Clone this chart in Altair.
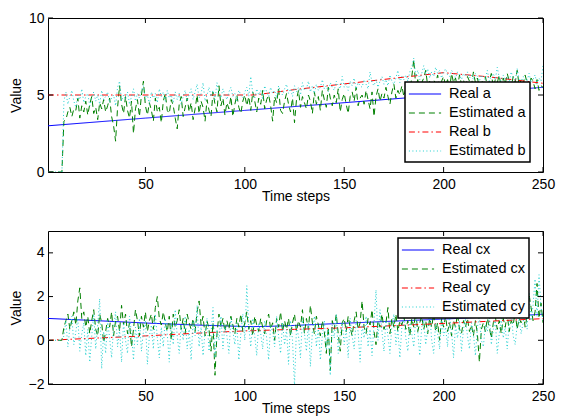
import altair as alt
import pandas as pd

# ---------------- data ----------------
t = list(range(1, 251))

est_a = [
    0, 0, 0, 0, 0, 0, 0, 0, 3.3, 3.4,
    3.9, 4.2, 3.6, 4.1, 4.0, 4.8, 3.5, 4.3, 3.9, 4.6,
    3.7, 4.4, 4.9, 3.8, 4.2, 3.4, 4.5, 4.1, 4.7, 3.9,
    4.3, 4.8, 3.6, 3.0, 2.0, 4.2, 5.6, 4.4, 3.8, 4.9,
    4.0, 3.5, 4.6, 2.5, 4.1, 4.7, 3.6, 5.0, 5.9, 4.3,
    3.7, 4.5, 4.0, 3.3, 4.8, 3.9, 4.2, 3.2, 4.6, 5.1,
    4.0, 3.8, 4.7, 4.3, 3.5, 2.8, 4.4, 4.9, 3.6, 4.2,
    4.8, 3.9, 4.5, 3.4, 4.1, 5.0, 3.8, 4.6, 4.2, 3.3,
    4.7, 4.0, 3.6, 5.2, 4.4, 3.9, 5.6, 4.3, 4.8, 3.7,
    4.5, 4.1, 4.9, 3.6, 4.4, 5.0, 4.2, 3.8, 4.6, 5.0,
    4.3, 4.9, 4.0, 5.2, 4.6, 3.9, 4.8, 4.4, 5.3, 4.1,
    4.7, 5.0, 4.3, 3.3, 4.9, 4.5, 5.4, 4.0, 3.8, 4.6,
    5.1, 4.4, 3.9, 4.8, 3.2, 4.7, 5.3, 4.2, 4.9, 4.5,
    4.1, 5.0, 4.6, 3.8, 5.2, 4.4, 4.9, 4.0, 5.3, 4.7,
    4.2, 5.5, 4.8, 4.3, 5.0, 4.5, 5.4, 3.9, 4.7, 5.1,
    4.4, 3.8, 4.9, 5.2, 4.6, 5.5, 4.3, 4.8, 5.0, 4.4,
    5.3, 4.7, 4.1, 5.2, 3.6, 4.9, 5.4, 4.6, 5.1, 4.8,
    5.5, 4.9, 4.4, 5.2, 5.7, 4.8, 5.3, 5.0, 5.6, 4.9,
    5.4, 5.8, 5.1, 6.2, 7.3, 5.5, 6.0, 5.3, 5.8, 6.1,
    6.6, 5.6, 5.9, 5.2, 6.0, 5.7, 6.3, 5.5, 5.9, 6.2,
    5.6, 6.0, 5.4, 6.4, 5.8, 6.1, 5.5, 6.3, 5.7, 6.0,
    5.4, 6.2, 5.9, 5.6, 6.5, 5.8, 6.1, 5.5, 6.0, 5.7,
    6.2, 5.6, 5.9, 6.4, 5.5, 6.0, 5.8, 6.3, 5.4, 6.1,
    5.7, 6.4, 5.9, 5.5, 6.2, 5.8, 6.6, 5.6, 6.0, 5.7,
    6.3, 5.8, 5.5, 6.1, 5.9, 5.4, 6.0, 5.3, 5.6, 5.5,
]

est_b = [
    0, 0, 0, 0, 0, 0, 0, 0, 4.6, 5.2,
    4.4, 4.9, 5.3, 4.6, 4.2, 5.0, 4.7, 5.4, 4.5, 4.9,
    5.1, 4.3, 4.8, 5.2, 4.6, 5.0, 4.4, 5.3, 4.7, 4.9,
    5.2, 4.5, 4.8, 5.0, 4.3, 5.5, 5.9, 4.6, 5.0, 4.7,
    5.2, 4.4, 4.9, 5.4, 4.6, 5.1, 4.8, 5.3, 5.6, 4.7,
    5.0, 4.4, 5.2, 4.8, 5.1, 4.5, 5.4, 4.9, 5.2, 4.6,
    5.3, 4.8, 5.0, 4.5, 5.2, 4.7, 5.1, 4.4, 4.9, 5.3,
    4.6, 5.0, 5.4, 4.7, 5.2, 5.7, 4.8, 5.1, 5.8, 4.6,
    5.0, 5.5, 4.9, 5.3, 4.7, 5.8, 5.1, 4.8, 5.4, 5.0,
    4.7, 5.2, 5.5, 4.9, 5.1, 4.6, 5.3, 5.0, 4.8, 5.2,
    5.5, 4.9, 6.2, 5.1, 4.8, 5.4, 5.0, 5.3, 4.7, 5.6,
    5.2, 4.9, 5.5, 5.1, 5.3, 4.8, 5.6, 5.2, 5.0, 5.4,
    5.7, 5.1, 5.4, 4.9, 5.6, 5.2, 5.5, 5.0, 5.8, 5.3,
    5.4, 5.9, 5.2, 5.6, 5.1, 5.7, 5.3, 5.5, 6.0, 5.4,
    5.6, 5.2, 5.8, 5.5, 5.3, 5.9, 5.6, 5.4, 6.2, 5.5,
    5.7, 5.3, 5.9, 5.6, 6.1, 5.4, 5.8, 5.6, 5.5, 6.0,
    5.7, 5.4, 6.5, 5.8, 5.6, 6.0, 5.5, 5.9, 6.2, 5.7,
    6.0, 5.6, 6.3, 5.9, 5.7, 6.1, 6.6, 5.8, 6.2, 6.0,
    6.3, 5.9, 6.5, 6.8, 7.4, 6.2, 6.6, 6.0, 6.4, 6.9,
    6.3, 6.7, 6.1, 6.5, 6.2, 6.8, 6.4, 6.6, 6.1, 6.5,
    6.7, 6.3, 6.2, 6.6, 6.4, 6.1, 6.5, 6.3, 6.0, 6.4,
    6.2, 6.5, 6.1, 6.3, 6.0, 6.4, 6.2, 5.9, 6.3, 6.1,
    6.0, 6.6, 5.9, 6.2, 6.4, 6.0, 6.8, 6.1, 5.9, 6.3,
    6.0, 6.2, 5.8, 6.5, 6.1, 5.9, 6.7, 6.0, 5.8, 6.2,
    6.1, 5.9, 6.4, 5.8, 6.0, 6.3, 5.7, 6.1, 5.9, 6.9,
]

real_a_t = [1, 50, 100, 150, 200, 250]
real_a_v = [3.0, 3.5, 4.0, 4.5, 5.0, 5.5]

real_b_t = [1, 105, 125, 150, 176, 200, 224, 250]
real_b_v = [5.0, 5.0, 5.35, 5.72, 6.1, 6.45, 6.16, 5.76]

est_cx = [
    0, 0, 0, 0, 0, 0, 0, 0, 0.6, 0.9,
    1.2, 0.5, 0.9, 1.3, 0.7, 1.8, 2.4, 1.0, 1.3, 0.6,
    1.1, 0.3, 0.9, 1.4, 0.5, 0.2, 1.2, 0.8, -0.1, 0.4,
    1.0, 0.6, 1.3, 0.2, 0.9, 1.1, 0.4, 1.6, 0.7, 1.2,
    0.3, 0.8, -0.3, 0.5, 1.4, 0.9, 0.2, 1.1, 0.6, 1.3,
    0.4, 0.9, 1.2, 0.5, 1.5, 2.0, 1.0, 0.7, 1.3, 0.8,
    0.4, 1.1, 0.0, 1.2, 0.6, 0.9, 1.4, 0.5, 1.0, 0.3,
    1.2, 0.8, 0.5, 1.0, 0.4, 1.3, 1.8, 0.7, 1.1, 0.2,
    0.9, 0.5, -0.5, 0.8, -1.6, 0.3, 1.2, 0.6, 1.0, 0.4,
    0.9, 0.5, 1.1, 0.7, 0.3, 1.0, 0.6, 1.2, 0.4, 0.8,
    1.3, 0.5, 0.9, 0.2, 1.1, 0.7, 0.4, 1.0, 0.6, 0.3,
    0.9, 1.2, 0.5, 0.8, 0.0, 1.0, 0.6, 1.3, 0.4, 0.9,
    0.5, 1.0, 0.2, 0.8, 1.2, 0.4, 0.9, 0.6, 1.4, 0.3,
    1.0, 0.5, 1.6, 0.8, 0.3, 1.1, 0.7, 0.2, 0.9, 0.4,
    -0.6, 0.6, -1.4, 0.9, 0.5, 1.2, 0.3, -0.5, 0.8, 1.0,
    0.4, 1.1, 0.6, 0.2, 0.9, 1.3, 0.5, 0.8, 1.8, 0.6,
    0.3, 1.0, 0.7, 1.4, 0.4, -0.2, 0.9, 0.6, 1.2, 0.5,
    0.8, 1.5, 0.3, 1.0, 0.6, 1.2, 0.4, 0.9, 0.7, 1.1,
    0.5, 0.9, 0.2, 1.0, 0.6, 1.3, 0.4, 0.8, 1.1, 0.5,
    0.9, 0.3, 1.0, 0.6, 1.2, 0.4, 0.8, 0.0, 1.0, 0.6,
    1.1, 0.4, 0.8, 0.2, 0.9, 0.6, 1.2, 0.5, 0.3, 0.9,
    0.6, 1.0, 0.4, 0.7, 0.2, 0.9, 0.3, -1.0, 0.5, 0.8,
    0.4, 1.0, 0.6, 0.1, 0.8, 1.1, 0.5, 0.9, 0.3, 1.0,
    0.6, 1.2, 0.4, 0.9, 0.7, 1.3, 0.5, 1.0, 0.8, 1.4,
    0.6, 1.1, 2.1, 1.5, 0.9, 1.3, 2.6, 1.0, 1.7, 0.8,
]

est_cy = [
    0, 0, 0, 0, 0, 0, 0, 0, 0.2, 0.9,
    -0.3, 0.6, 1.1, -0.2, 0.4, 1.0, -0.5, 0.3, 0.8, -0.7,
    0.5, -1.0, 0.2, 1.2, -0.4, 0.7, 1.9, -1.3, 0.4, -0.6,
    0.9, 0.1, -0.8, 0.6, 1.3, -0.3, 0.5, -1.0, 0.8, 0.0,
    -0.6, 1.1, 0.3, -0.9, 0.6, -0.2, 1.0, -0.5, 0.4, 0.9,
    -1.1, 0.2, 0.7, -0.4, 1.2, 0.1, -0.8, 0.6, -0.3, 1.0,
    0.3, -1.0, 0.8, -0.2, 1.4, 0.2, -0.6, 0.7, 0.0, 1.1,
    -0.4, 0.5, -0.9, 0.9, 0.2, 1.6, -0.3, 0.6, -0.7, 0.4,
    1.0, -0.5, 0.3, 1.5, -0.8, 0.5, 0.0, 1.1, -0.4, 0.7,
    0.2, -0.6, 1.0, 0.4, -0.2, 0.8, -0.9, 0.3, 1.2, 0.0,
    2.5, 0.6, -0.3, 1.0, 0.2, -0.7, 0.8, 0.3, -0.4, 0.9,
    0.1, -0.9, 0.7, 0.4, -0.3, 1.1, 0.2, -0.6, 0.8, -0.2,
    0.5, -1.1, 0.9, 0.0, -2.1, 0.6, 0.2, -0.8, 1.0, 0.3,
    -0.5, 0.8, -1.2, 0.4, 1.1, -0.3, 0.6, -0.9, 0.2, 0.9,
    -0.4, 0.5, -1.6, 0.7, 0.1, 1.2, -0.6, 0.3, 0.8, -0.2,
    0.6, -0.8, 1.0, 0.2, -0.4, 0.9, 0.4, -1.0, 0.7, 0.1,
    1.1, -0.3, 0.5, -0.7, 0.8, 2.3, 0.0, 1.4, 0.4, -0.5,
    0.9, 0.2, -0.6, 0.7, 1.2, -0.2, 0.5, -0.8, 0.6, 1.0,
    0.1, -0.5, 0.8, 0.3, -0.3, 1.1, 0.4, -0.7, 0.6, 0.9,
    -0.2, 0.5, 1.3, 0.0, -0.6, 0.8, 0.3, -0.4, 1.0, 0.2,
    0.6, -0.3, 1.2, 0.4, -0.8, 0.7, 0.1, 0.9, -0.5, 0.5,
    1.0, 0.2, -0.4, 0.8, 0.3, -0.7, 0.6, 1.1, 0.0, -0.3,
    0.7, 0.4, 1.2, -0.2, 0.5, 0.9, -0.6, 0.3, 1.0, 0.1,
    0.6, -0.4, 0.8, 1.3, 0.2, -0.2, 0.7, 1.0, 0.3, 0.8,
    1.4, 0.5, 2.2, 0.9, 1.6, 2.8, 1.1, 3.0, 1.5, 0.9,
]

real_cx_t = [1, 25, 50, 75, 100, 110, 125, 150, 176, 200, 225, 250]
real_cx_v = [1.0, 0.9, 0.79, 0.7, 0.63, 0.63, 0.68, 0.78, 0.88, 0.97, 1.08, 1.19]

real_cy_t = [1, 25, 50, 75, 100, 125, 150, 175, 200, 225, 250]
real_cy_v = [0.0, 0.1, 0.2, 0.32, 0.43, 0.5, 0.57, 0.67, 0.77, 0.88, 0.99]

names_top = ["Real a", "Estimated a", "Real b", "Estimated b"]
names_bot = ["Real cx", "Estimated cx", "Real cy", "Estimated cy"]

x_ticks = [50, 100, 150, 200, 250]
y_ticks_top = [0, 5, 10]
y_ticks_bot = [-2, 0, 2, 4]

# ---------------- styling ----------------
COLORS = ["#0000ff", "#008000", "#ff0000", "#20d0d0"]
DASHES = [[1, 0], [6, 4], [6, 3, 1.5, 3], [1, 2.5]]
FONT = "Liberation Sans"
W = 495
H_TOP = 154
H_BOT = 153


def long_df(pairs):
    frames = []
    for name, tt, vv in pairs:
        frames.append(pd.DataFrame({"t": tt, "value": vv, "series": name}))
    return pd.concat(frames, ignore_index=True)


df_top = long_df([
    (names_top[0], real_a_t, real_a_v),
    (names_top[1], t, est_a),
    (names_top[2], real_b_t, real_b_v),
    (names_top[3], t, est_b),
])
df_bot = long_df([
    (names_bot[0], real_cx_t, real_cx_v),
    (names_bot[1], t, est_cx),
    (names_bot[2], real_cy_t, real_cy_v),
    (names_bot[3], t, est_cy),
])


def panel(df, names, ydom, yticks, h, lx, ly):
    legend = alt.Legend(
        title=None, orient="none", legendX=lx, legendY=ly,
        symbolType="M-2.3,0H2.3", symbolSize=196, symbolStrokeWidth=1.2,
        symbolOffset=8,
        labelFontSize=14.5, labelFont=FONT, labelColor="black",
        fillColor="white", strokeColor="black", padding=4,
        rowPadding=4, labelOffset=16,
    )
    x = alt.X("t:Q", scale=alt.Scale(domain=[1, 250], nice=False, zero=False),
              axis=alt.Axis(values=x_ticks, title="Time steps", labelFlush=False))
    y = alt.Y("value:Q", scale=alt.Scale(domain=ydom, nice=False, zero=False),
              axis=alt.Axis(values=yticks, title="Value", labelFlush=False))
    color = alt.Color("series:N", scale=alt.Scale(domain=names, range=COLORS), legend=legend)
    dash = alt.StrokeDash("series:N", scale=alt.Scale(domain=names, range=DASHES), legend=legend)

    layers = []
    for nm in names:
        layers.append(
            alt.Chart(df).transform_filter(alt.datum.series == nm)
            .mark_line(strokeWidth=1, clip=True)
            .encode(x=x, y=y, color=color, strokeDash=dash)
        )
    xt = pd.DataFrame({"t": x_ticks})
    yt = pd.DataFrame({"value": yticks})
    layers.append(alt.Chart(xt).mark_rule(color="black", strokeWidth=1)
                  .encode(x="t:Q", y=alt.value(0), y2=alt.value(5)))
    layers.append(alt.Chart(xt).mark_rule(color="black", strokeWidth=1)
                  .encode(x="t:Q", y=alt.value(h - 5), y2=alt.value(h)))
    layers.append(alt.Chart(yt).mark_rule(color="black", strokeWidth=1)
                  .encode(y="value:Q", x=alt.value(0), x2=alt.value(5)))
    layers.append(alt.Chart(yt).mark_rule(color="black", strokeWidth=1)
                  .encode(y="value:Q", x=alt.value(W - 5), x2=alt.value(W)))
    return alt.layer(*layers).properties(width=W, height=h)


top = panel(df_top, names_top, [0, 10], y_ticks_top, H_TOP, 357, 64)
bot = panel(df_bot, names_bot, [-2, 5], y_ticks_bot, H_BOT, 350, 7)

chart = (
    alt.vconcat(top, bot, spacing=26)
    .resolve_scale(color="independent", strokeDash="independent")
    .resolve_legend(color="independent", strokeDash="independent")
    .properties(padding={"left": 0, "top": 2, "right": 0, "bottom": 0})
    .configure_view(stroke="black", strokeWidth=1)
    .configure_axis(
        labelFont=FONT, titleFont=FONT, labelFontSize=14, titleFontSize=14,
        titleFontWeight="normal", labelColor="black", titleColor="black",
        ticks=False, domain=False, grid=False,
    )
    .configure_axisY(labelPadding=4, titlePadding=5, minExtent=20, maxExtent=20)
    .configure_axisX(labelPadding=5, titlePadding=-2)
    .configure_legend(strokeWidth=1.5)
)

chart.save("out.html", embed_options={"renderer": "svg", "actions": False})
